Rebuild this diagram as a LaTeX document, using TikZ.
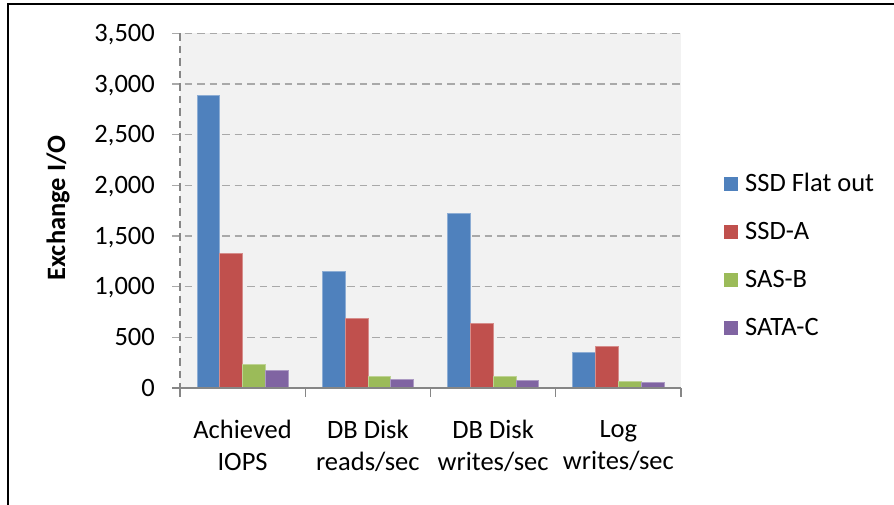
\documentclass[tikz,border=0pt]{standalone}
\usepackage{fontspec}
\setmainfont{Carlito}
\definecolor{ssdflat}{HTML}{4F81BD}
\definecolor{ssda}{HTML}{C0504D}
\definecolor{sasb}{HTML}{9BBB59}
\definecolor{satac}{HTML}{8064A2}
\definecolor{plotbg}{HTML}{F2F2F2}
\definecolor{gridgray}{HTML}{A9A9A9}
\definecolor{axisgray}{HTML}{868686}
\begin{document}
\begin{tikzpicture}[x=1pt,y=-1pt,
  every node/.style={inner sep=0pt, font=\fontsize{26.5}{32}\selectfont},
  gridline/.style={draw=gridgray, line width=1.4pt, dash pattern=on 7.5pt off 5pt},
  axisline/.style={draw=axisgray, line width=1.4pt},
  barbox/.style={fill=#1, draw=#1!65!white, line width=0.7pt},
  legbox/.style={minimum size=14pt, inner sep=0pt}]
  \useasboundingbox[fill=white] (0,0) rectangle (894,505);
  % frame
  \draw[line width=2pt] (8,505) -- (8,3.7) -- (894,3.7);
  \node[rotate=90, font=\fontsize{26.5}{30}\selectfont\bfseries] (ytitle) at (58,208) {Exchange I/O};

  % plot area, y in data units
  \begin{scope}[shift={(180,388)}, y=0.1013pt]
    \fill[plotbg] (0,0) rectangle (501,3500);
    \foreach \v/\lab in {0/0, 500/500, 1000/{1,000}, 1500/{1,500},
                         2000/{2,000}, 2500/{2,500}, 3000/{3,000}, 3500/{3,500}}
      \node[anchor=base east, yshift=-8pt] (tick\v) at (-25,\v) {\lab};
    \foreach \v in {500,1000,...,3500}
      \draw[gridline] (-8,\v) -- (501,\v);
    \draw[axisline, dash pattern=on 7.5pt off 5pt] (0,3500) -- (0,0);

    \foreach \c/\va/\vb/\vc/\vd in {0/2890/1325/237/178, 1/1152/690/118/89,
                                    2/1726/641/118/79, 3/350/415/68/58}{
      \pgfmathsetmacro\gx{\c*125.25+17}
      \draw[barbox=ssdflat] (\gx,0) rectangle ++(22.8,\va);
      \draw[barbox=ssda] ({\gx+22.8},0) rectangle ++(22.8,\vb);
      \draw[barbox=sasb] ({\gx+45.6},0) rectangle ++(22.8,\vc);
      \draw[barbox=satac] ({\gx+68.4},0) rectangle ++(22.8,\vd);
    }

    \draw[axisline] (-8,0) -- (501,0);
    \foreach \i in {0,...,4}
      \draw[axisline] ({\i*125.25},0) -- ++(0,-9pt);

    \foreach \c/\lab in {0/{Achieved\\IOPS}, 1/{DB Disk\\reads/sec},
                         2/{DB Disk\\writes/sec}, 3/{Log\\writes/sec}}
      \node[align=center, anchor=north, yshift=-32pt] (cat\c) at ({\c*125.25+62.6},0) {\lab};
  \end{scope}

  % legend
  \foreach \i/\col/\lab in {0/ssdflat/SSD Flat out, 1/ssda/SSD-A,
                            2/sasb/SAS-B, 3/satac/SATA-C}{
    \node[legbox, fill=\col] (leg\i) at (730.5,{184+48*\i}) {};
    \node[anchor=base west] (lab\i) at (745,{191.5+48*\i}) {\lab};
  }
\end{tikzpicture}
\end{document}
